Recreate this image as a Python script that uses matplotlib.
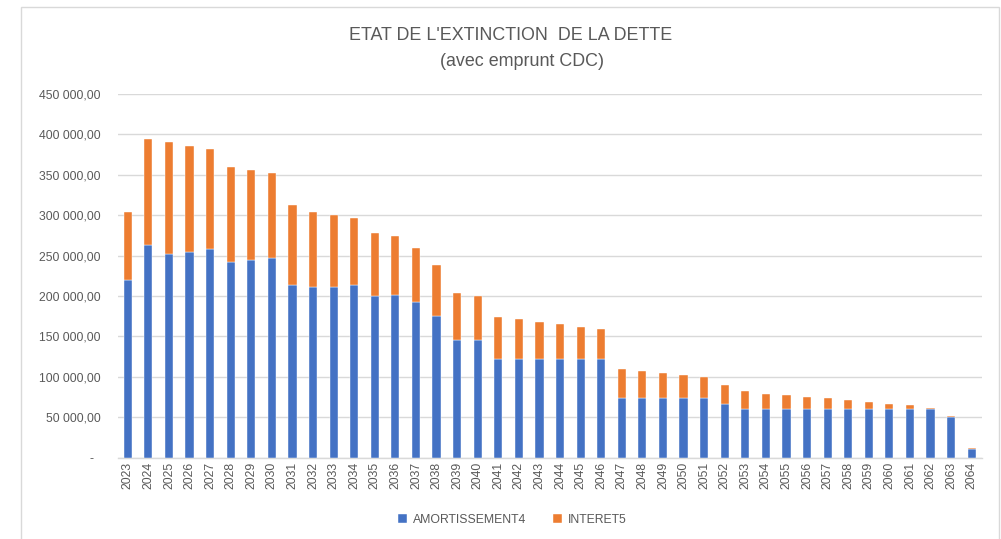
import numpy as np
import matplotlib.pyplot as plt
from matplotlib.patches import Rectangle

plt.rcParams['font.family'] = ['Liberation Sans', 'DejaVu Sans']

# data
years = [str(y) for y in range(2023, 2065)]
amortissement = [219500, 263200, 252100, 254500, 257800, 242600, 244200, 247100,
                 213700, 210800, 211200, 213700, 200100, 200900, 192700, 175300,
                 145600, 145600, 121700, 121700, 121700, 121700, 121700, 121700,
                 73400, 73400, 73400, 73400, 73400, 66300, 60100, 60100,
                 60100, 60100, 60100, 60100, 60100, 60100, 60100, 60100,
                 50100, 10400]
total = [304500, 394800, 391100, 386100, 382400, 360100, 356400, 352700,
         312300, 304500, 300700, 296200, 277600, 273900, 259100, 238000,
         203400, 200500, 173700, 171200, 168300, 165000, 162100, 159700,
         109300, 106800, 105000, 101900, 99800, 90300, 82000, 78700,
         77000, 75000, 73300, 71200, 69200, 66300, 64600, 62100,
         51000, 11600]
interet = [t - a for t, a in zip(total, amortissement)]

blue = '#4472C4'
orange = '#ED7D31'
grey_txt = '#595959'
grid_col = '#D9D9D9'

fig = plt.figure(figsize=(10.01, 5.39), dpi=100)
fig.patch.set_facecolor('white')

# chart area border
fig.add_artist(Rectangle((21 / 1001, -0.01), (999 - 21) / 1001, 1 - 7 / 539 + 0.01,
                         transform=fig.transFigure, fill=False,
                         edgecolor=grid_col, linewidth=1))

ax = fig.add_axes([117.5 / 1001, 1 - 457.7 / 539, (982 - 117.5) / 1001, (457.7 - 94) / 539])

x = np.arange(len(years))
ax.bar(x, amortissement, 0.4, color=blue, label='AMORTISSEMENT4',
       edgecolor='white', linewidth=0.3, zorder=3)
ax.bar(x, interet, 0.4, bottom=amortissement, color=orange, label='INTERET5',
       edgecolor='white', linewidth=0.3, zorder=3)

ax.set_xlim(-0.5, len(years) - 0.5)
ax.set_ylim(0, 450000)
ax.set_yticks(np.arange(0, 450001, 50000))


def fmt(v):
    if v == 0:
        return '-  '
    return f"{v:,.2f}".replace(',', ' ').replace('.', ',')


ax.set_yticklabels([fmt(v) for v in ax.get_yticks()])
ax.set_xticks(x)
ax.set_xticklabels(years, rotation=90)

ax.tick_params(axis='y', length=0, pad=12, labelsize=8.8, labelcolor=grey_txt)
ax.tick_params(axis='x', length=0, pad=3, labelsize=8.8, labelcolor=grey_txt)

ax.grid(axis='y', color=grid_col, linewidth=1, zorder=0)
for s in ['top', 'right', 'left']:
    ax.spines[s].set_visible(False)
ax.spines['bottom'].set_color(grid_col)
ax.spines['bottom'].set_linewidth(1)

fig.text(0.510, 1 - 35 / 539, "ETAT DE L'EXTINCTION  DE LA DETTE", ha='center',
         va='center', fontsize=12.9, color=grey_txt)
fig.text(0.521, 1 - 61 / 539, "(avec emprunt CDC)", ha='center',
         va='center', fontsize=12.9, color=grey_txt)

fig.legend(loc='center', bbox_to_anchor=(0.512, 1 - 520 / 539), ncol=2,
           frameon=False, fontsize=8.8, labelcolor=grey_txt,
           handlelength=0.7, handleheight=0.7, handletextpad=0.5,
           columnspacing=2.2)

fig.savefig('out.png', dpi=100, facecolor='white')
